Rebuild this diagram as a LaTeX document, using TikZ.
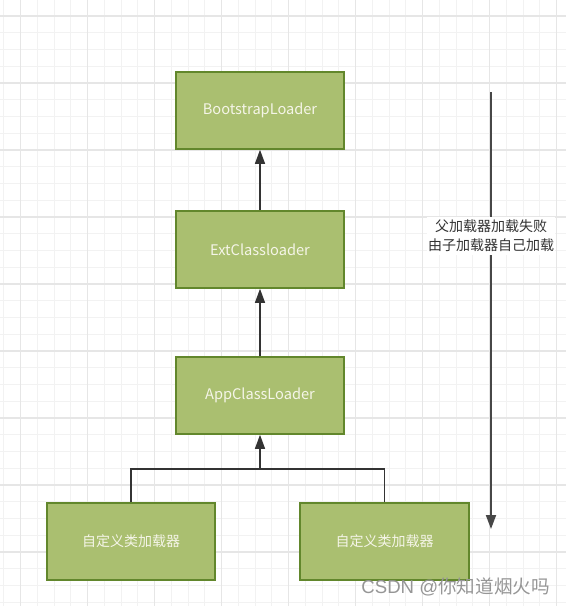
\documentclass[tikz,border=0pt]{standalone}
\usepackage{fontspec}
\setmainfont{Noto Sans CJK SC}
\newfontfamily\wmlatin{Liberation Sans}
\usetikzlibrary{arrows.meta}
\definecolor{boxfill}{RGB}{170,191,112}
\definecolor{boxline}{RGB}{98,135,44}
\definecolor{boxtext}{RGB}{245,245,232}
\definecolor{edge}{RGB}{51,51,51}
\definecolor{gridminor}{RGB}{242,242,242}
\definecolor{gridmajor}{RGB}{230,230,230}
\definecolor{wm}{RGB}{150,150,150}
\tikzset{
  loader/.style={draw=boxline, line width=1.6pt, fill=boxfill, minimum width=168pt, minimum height=77pt,
    inner sep=0pt, text=boxtext, font=\fontsize{14.6pt}{17pt}\selectfont},
  conn/.style={draw=edge, line width=1.3pt},
  arr/.style={conn, -{Triangle[length=14pt,width=10pt]}},
}
\begin{document}
\begin{tikzpicture}[x=1pt,y=-1pt]
\useasboundingbox (0,0) rectangle (566,606);
\fill[white] (0,0) rectangle (566,606);
\begin{scope}
\clip (0,0) rectangle (566,606);
\foreach \k in {0,...,34} \draw[gridminor, line width=1pt] ({3.95+16.75*\k},0) -- ({3.95+16.75*\k},606);
\foreach \k in {0,...,37} \draw[gridminor, line width=1pt] (0,{-0.75+16.75*\k}) -- (566,{-0.75+16.75*\k});
\foreach \k in {0,...,8} \draw[gridmajor, line width=1.3pt] ({20.7+67*\k},0) -- ({20.7+67*\k},606);
\foreach \k in {0,...,9} \draw[gridmajor, line width=1.3pt] (0,{16+67*\k}) -- (566,{16+67*\k});
\end{scope}

\node[loader] (boot) at (260,110.5) {BootstrapLoader};
\node[loader] (ext) at (260,249.5) {ExtClassloader};
\node[loader] (app) at (260,395.5) {AppClassLoader};
\node[loader, minimum width=168pt] (c1) at (131,541.5) {\fontsize{14pt}{16pt}\selectfont 自定义类加载器};
\node[loader, minimum width=169pt] (c2) at (384.5,541.5) {\fontsize{14pt}{16pt}\selectfont 自定义类加载器};

\coordinate (j) at (260,469);
\draw[arr] (ext.north) -- (boot.south);
\draw[arr] (app.north) -- (ext.south);
\draw[conn] (c1.north) |- (j) -| (c2.north);
\draw[arr] (j) -- (app.south);

\coordinate (ts) at (491,92);
\coordinate (te) at (491,529);
\draw[draw=edge!90!white, line width=1.8pt, -{Triangle[length=14pt,width=10pt]}] (ts) -- (te);
\node[fill=white, inner xsep=1pt, inner ysep=3pt, text=edge, align=center,
  font=\fontsize{14pt}{19pt}\selectfont] (lbl) at (491,236) {父加载器加载失败\\由子加载器自己加载};

\node[text=wm, font=\fontsize{18.6pt}{20pt}\selectfont, inner sep=0pt, anchor=east] (wmk) at (550,587) {{\wmlatin CSDN @}你知道烟火吗};
\end{tikzpicture}
\end{document}
